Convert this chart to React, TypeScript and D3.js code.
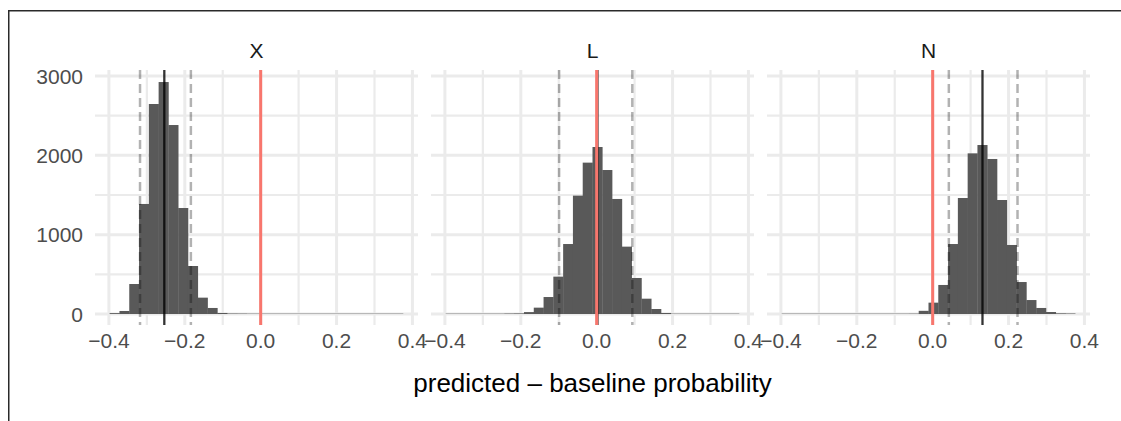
import React from "react";
import * as d3 from "d3";

// ---- data ----
const panels = ["X", "L", "N"];
const binStart = -0.398;
const binWidth = 0.0258;
const countsX = [10, 38, 378, 1387, 2647, 2924, 2382, 1336, 605, 206, 76, 13, 3, 2, 0, 0, 0, 0, 0, 0, 0, 0, 0, 0, 0, 0, 0, 0, 0, 0];
const countsL = [0, 0, 0, 0, 0, 0, 3, 5, 24, 80, 214, 471, 882, 1492, 1908, 2105, 1815, 1450, 849, 454, 193, 63, 13, 0, 0, 0, 0, 0, 0, 0];
const countsN = [0, 0, 0, 0, 0, 0, 0, 0, 0, 0, 0, 0, 0, 1, 40, 143, 366, 882, 1462, 2025, 2130, 1954, 1437, 870, 403, 176, 76, 25, 6, 3];
const allCounts = [countsX, countsL, countsN];
const centerLines = [-0.254, 0.002, 0.1313];
const lowerLines = [-0.318, -0.099, 0.0426];
const upperLines = [-0.184, 0.0939, 0.2236];
const refLine = 0;
const xTicks = [-0.4, -0.2, 0, 0.2, 0.4];
const xMinor = [-0.3, -0.1, 0.1, 0.3];
const yTicks = [0, 1000, 2000, 3000];
const yMinor = [500, 1500, 2500];
const xTitle = "predicted \u2013 baseline probability";

const FONT = "'Liberation Sans', Arial, Helvetica, sans-serif";

export default function App() {
  const panelX = [95, 431, 767];
  const panelW = 323;
  const panelTop = 70;
  const panelBottom = 325;
  const y = d3.scaleLinear().domain([0, 3000]).range([314, 76]);
  const fmt = (v: number) => (v < 0 ? "\u2212" : "") + d3.format(".1f")(Math.abs(v));
  const nBins = countsX.length;
  const binEnd = binStart + nBins * binWidth;

  return (
    <svg width={1121} height={421} style={{ position: "absolute", left: 0, top: 0 }} fontFamily={FONT}>
      <rect x={0} y={0} width={1121} height={421} fill="#fff" />
      {/* outer border */}
      <path d="M8.75,430 L8.75,10.75 L1130,10.75" fill="none" stroke="#2a2a2a" strokeWidth={1.5} />
      {panels.map((name, i) => {
        const x = d3.scaleLinear().domain([-0.4367, 0.4147]).range([panelX[i], panelX[i] + panelW]);
        const counts = allCounts[i];
        return (
          <g key={name}>
            {/* grid */}
            {yMinor.map((v) => (
              <line key={"ym" + v} x1={panelX[i]} x2={panelX[i] + panelW} y1={y(v)} y2={y(v)} stroke="#EBEBEB" strokeWidth={2.2} />
            ))}
            {xMinor.map((v) => (
              <line key={"xm" + v} x1={x(v)} x2={x(v)} y1={panelTop} y2={panelBottom} stroke="#EBEBEB" strokeWidth={2.2} />
            ))}
            {yTicks.map((v) => (
              <line key={"y" + v} x1={panelX[i]} x2={panelX[i] + panelW} y1={y(v)} y2={y(v)} stroke="#EBEBEB" strokeWidth={3} />
            ))}
            {xTicks.map((v) => (
              <line key={"x" + v} x1={x(v)} x2={x(v)} y1={panelTop} y2={panelBottom} stroke="#EBEBEB" strokeWidth={3} />
            ))}
            {/* zero-height baseline of histogram */}
            <line x1={x(binStart)} x2={x(binEnd)} y1={y(0) - 0.5} y2={y(0) - 0.5} stroke="#595959" strokeOpacity={0.35} strokeWidth={1} />
            {/* bars */}
            {counts.map((c, k) =>
              c > 0 ? (
                <rect
                  key={k}
                  x={x(binStart + k * binWidth)}
                  width={x(binStart + (k + 1) * binWidth) - x(binStart + k * binWidth) + 0.3}
                  y={y(c)}
                  height={y(0) - y(c)}
                  fill="#595959"
                />
              ) : null
            )}
            {/* interval lines */}
            {[lowerLines[i], upperLines[i]].map((v, j) => (
              <line key={"d" + j} x1={x(v)} x2={x(v)} y1={panelTop} y2={panelBottom} stroke="#000" strokeOpacity={0.3} strokeWidth={2.5} strokeDasharray="9,5" />
            ))}
            <line x1={x(centerLines[i])} x2={x(centerLines[i])} y1={panelTop} y2={panelBottom} stroke="#000" strokeOpacity={0.8} strokeWidth={2.3} />
            <line x1={x(refLine)} x2={x(refLine)} y1={panelTop} y2={panelBottom} stroke="#F8766D" strokeWidth={3} />
            {/* strip */}
            <text x={panelX[i] + panelW / 2} y={58} textAnchor="middle" fontSize={21} fill="#1A1A1A">
              {name}
            </text>
            {/* x tick labels */}
            {xTicks.map((v) => (
              <text key={"xt" + v} x={x(v)} y={348} textAnchor="middle" fontSize={21} fill="#4D4D4D">
                {fmt(v)}
              </text>
            ))}
          </g>
        );
      })}
      {/* y tick labels */}
      {yTicks.map((v) => (
        <text key={"yt" + v} x={83} y={y(v) + 7.5} textAnchor="end" fontSize={21} fill="#4D4D4D">
          {v}
        </text>
      ))}
      <text x={592.5} y={392} textAnchor="middle" fontSize={26} fill="#000">
        {xTitle}
      </text>
    </svg>
  );
}
